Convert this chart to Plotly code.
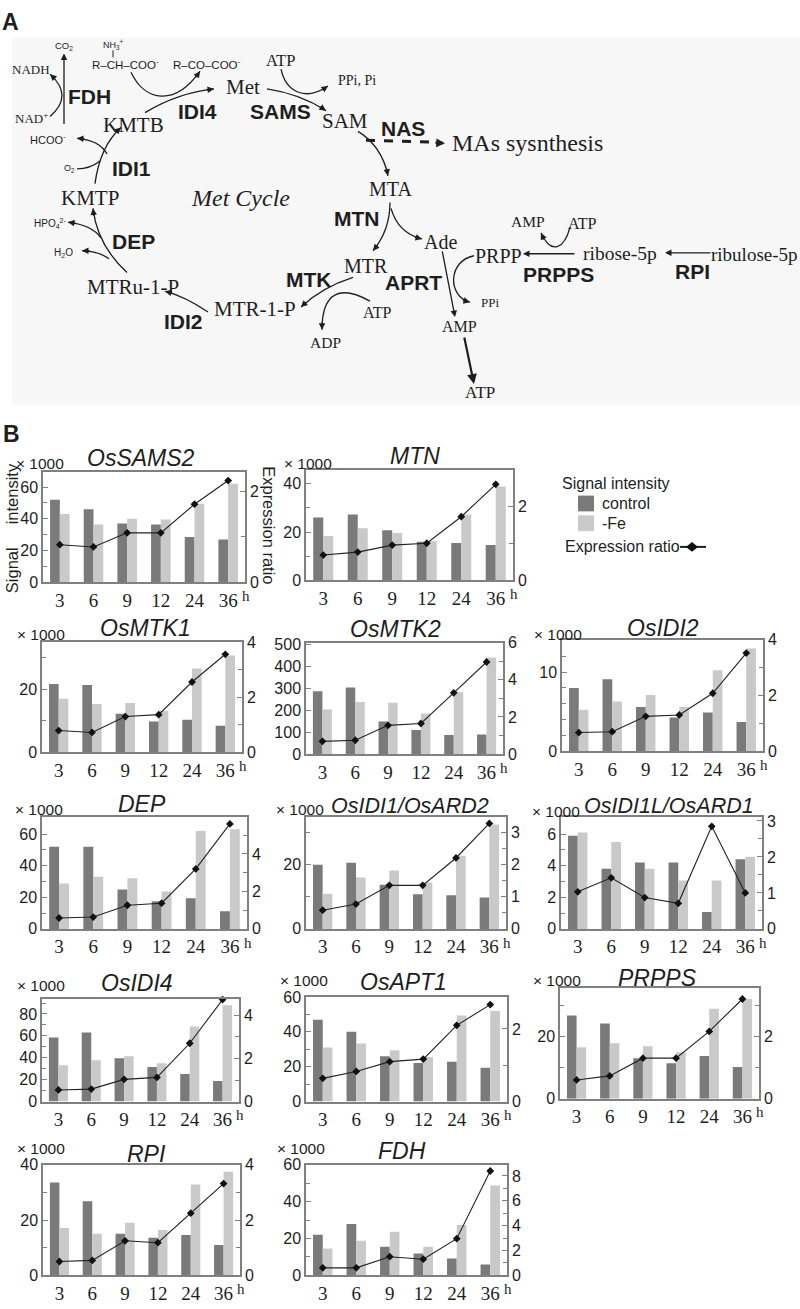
import plotly.graph_objects as go

W, H = 800, 1309
SERIF = "Liberation Serif, Times New Roman, serif"
SANS = "Liberation Sans, Arial, sans-serif"
INK = "#1e1e1e"
AXIS = "#808080"
CONTROL_COLOR = "#7a7a7a"
FE_COLOR = "#c9c9c9"

# ---------------- data ----------------
HOURS = ["3", "6", "9", "12", "24", "36"]

ossams2_control = [52, 46, 37, 36.5, 28.5, 27]
ossams2_fe = [43, 36.5, 40, 39.5, 49.5, 62]
ossams2_ratio = [0.83, 0.78, 1.09, 1.09, 1.72, 2.24]

mtn_control = [26, 27.3, 20.8, 16, 15.5, 14.7]
mtn_fe = [18.4, 21.6, 19.6, 16.3, 27.3, 38.8]
mtn_ratio = [0.69, 0.77, 0.96, 1.01, 1.73, 2.61]

osmtk1_control = [21.6, 21.3, 12.2, 9.7, 10.3, 8.4]
osmtk1_fe = [16.9, 15.3, 15.6, 13.1, 26.5, 30.6]
osmtk1_ratio = [0.79, 0.72, 1.3, 1.37, 2.56, 3.57]

osmtk2_control = [288, 305, 150, 111, 88, 90]
osmtk2_fe = [204, 239, 235, 186, 283, 442]
osmtk2_ratio = [0.69, 0.75, 1.55, 1.65, 3.3, 4.96]

osidi2_control = [8.0, 9.1, 5.6, 4.25, 4.9, 3.7]
osidi2_fe = [5.25, 6.3, 7.1, 5.6, 10.25, 13.0]
osidi2_ratio = [0.67, 0.7, 1.25, 1.3, 2.08, 3.52]

dep_control = [52, 52, 25, 17.5, 19.4, 11.2]
dep_fe = [28.7, 33, 32, 23.7, 62, 63]
dep_ratio = [0.58, 0.63, 1.26, 1.37, 3.2, 5.6]

osidi1_control = [20, 20.6, 13.8, 10.8, 10.5, 9.8]
osidi1_fe = [11, 16, 18.2, 14.5, 22.8, 32.6]
osidi1_ratio = [0.58, 0.77, 1.35, 1.35, 2.2, 3.27]

osidi1l_control = [5.9, 3.8, 4.2, 4.2, 1.07, 4.4]
osidi1l_fe = [6.1, 5.5, 3.8, 3.06, 3.06, 4.56]
osidi1l_ratio = [1.03, 1.42, 0.87, 0.71, 2.85, 1.0]

osidi4_control = [58.6, 63, 39.6, 31.5, 25.2, 18.9]
osidi4_fe = [33.3, 37.8, 41.4, 35, 68.5, 88]
osidi4_ratio = [0.54, 0.58, 1.03, 1.12, 2.7, 4.72]

osapt1_control = [47, 40, 26, 22.2, 22.8, 19.4]
osapt1_fe = [31, 33.3, 29.4, 25.6, 49.4, 52]
osapt1_ratio = [0.64, 0.83, 1.1, 1.17, 2.1, 2.67]

prpps_control = [26.7, 24.1, 13, 11.4, 13.7, 10.2]
prpps_fe = [16.5, 17.8, 16.8, 14.9, 28.9, 32]
prpps_ratio = [0.6, 0.73, 1.3, 1.3, 2.16, 3.2]

rpi_control = [33.6, 26.8, 15, 13.6, 14.6, 11]
rpi_fe = [17.1, 15, 19, 16.4, 32.9, 37.5]
rpi_ratio = [0.5, 0.54, 1.25, 1.18, 2.25, 3.32]

fdh_control = [22, 27.8, 15.5, 11.8, 9.1, 5.9]
fdh_fe = [14.5, 18.7, 23.6, 15.5, 27.3, 48.7]
fdh_ratio = [0.6, 0.6, 1.5, 1.3, 2.95, 8.4]

# ---------------- panel layout (positions in px) ----------------
PANELS = [
    dict(title="OsSAMS2", c=ossams2_control, f=ossams2_fe, r=ossams2_ratio, box=(43, 245, 470, 582),
         yl=(69.5, 20, 10), yr=(2.43, 2, 1), k=(40, 461), tp=(141, 456), ts=23),
    dict(title="MTN", c=mtn_control, f=mtn_fe, r=mtn_ratio, box=(306, 513, 468, 580),
         yl=(45.7, 20, 10), yr=(3.0, 2, 1), k=(308, 461), tp=(415, 454), ts=23),
    dict(title="OsMTK1", c=osmtk1_control, f=osmtk1_fe, r=osmtk1_ratio, box=(42, 242, 642, 754),
         yl=(35, 20, 10), yr=(4.03, 2, 1), k=(41, 635), tp=(145, 628), ts=23),
    dict(title="OsMTK2", c=osmtk2_control, f=osmtk2_fe, r=osmtk2_ratio, box=(306, 503, 643, 756),
         yl=(510, 100, None), yr=(6.0, 2, 1), k=None, tp=(395, 629), ts=23),
    dict(title="OsIDI2", c=osidi2_control, f=osidi2_fe, r=osidi2_ratio, box=(562, 763, 640, 753),
         yl=(14.1, 10, 2), yr=(4.0, 2, 1), k=(558, 635), tp=(663, 628), ts=23),
    dict(title="DEP", c=dep_control, f=dep_fe, r=dep_ratio, box=(42, 247, 820, 933),
         yl=(70.6, 20, 10), yr=(5.95, 2, 1), k=(39, 812), tp=(142, 806), ts=23),
    dict(title="OsIDI1/OsARD2", c=osidi1_control, f=osidi1_fe, r=osidi1_ratio, box=(306, 506, 820, 933),
         yl=(34.8, 20, 10), yr=(3.46, 1, 0.5), k=(300, 812), tp=(410, 808), ts=21.5),
    dict(title="OsIDI1L/OsARD1", c=osidi1l_control, f=osidi1l_fe, r=osidi1l_ratio, box=(561, 762, 820, 933),
         yl=(7.06, 2, 1), yr=(3.1, 1, 0.5), k=(556, 814), tp=(669, 808), ts=21.5),
    dict(title="OsIDI4", c=osidi4_control, f=osidi4_fe, r=osidi4_ratio, box=(42, 239, 1004, 1108),
         yl=(93.7, 20, 10), yr=(4.75, 2, 1), k=(41, 990), tp=(137, 988), ts=23),
    dict(title="OsAPT1", c=osapt1_control, f=osapt1_fe, r=osapt1_ratio, box=(306, 507, 1002, 1108),
         yl=(60, 20, 10), yr=(2.88, 2, 1), k=(304, 985), tp=(403, 987), ts=23),
    dict(title="PRPPS", c=prpps_control, f=prpps_fe, r=prpps_ratio, box=(560, 759, 993, 1105),
         yl=(35.5, 20, 10), yr=(3.55, 2, 1), k=(557, 985), tp=(657, 983), ts=23),
    dict(title="RPI", c=rpi_control, f=rpi_fe, r=rpi_ratio, box=(43, 240, 1172, 1284),
         yl=(40, 20, 10), yr=(4.0, 2, 1), k=(41, 1156), tp=(146, 1161), ts=23),
    dict(title="FDH", c=fdh_control, f=fdh_fe, r=fdh_ratio, box=(306, 507, 1172, 1284),
         yl=(60, 20, 10), yr=(8.9, 2, 1), k=(301, 1155), tp=(402, 1158), ts=23),
]

fig = go.Figure()
ann = []
shp = []


def P(x, y):
    return x / W, 1 - y / H


def label(x, y, s, size, family=SANS, angle=0, xanchor="center", color=INK):
    X, Y = P(x, y)
    ann.append(dict(x=X, y=Y, xref="paper", yref="paper", text=s, showarrow=False,
                    font=dict(family=family, size=size, color=color),
                    textangle=angle, xanchor=xanchor, yanchor="middle"))


def arrow(tail, head, width=1.3, size=1.0):
    X, Y = P(*head)
    ann.append(dict(x=X, y=Y, xref="paper", yref="paper",
                    ax=tail[0] - head[0], ay=tail[1] - head[1], axref="pixel", ayref="pixel",
                    text="", showarrow=True, arrowhead=2, arrowsize=size,
                    arrowwidth=width, arrowcolor=INK, standoff=0))


def path(pts, width=1.3, head=True, dash="solid"):
    cmd = "Q" if len(pts) == 3 else "C"
    cs = [P(*p) for p in pts]
    d = f"M {cs[0][0]:.5f} {cs[0][1]:.5f} {cmd} " + " ".join(f"{x:.5f} {y:.5f}" for x, y in cs[1:])
    shp.append(dict(type="path", path=d, xref="paper", yref="paper",
                    line=dict(color=INK, width=width, dash=dash)))
    if head:
        (x1, y1), (x0, y0) = pts[-1], pts[-2]
        L = ((x1 - x0) ** 2 + (y1 - y0) ** 2) ** 0.5
        arrow((x1 - 9 * (x1 - x0) / L, y1 - 9 * (y1 - y0) / L), pts[-1], width)


def seg(p0, p1, width=1.0, dash="solid"):
    a, b = P(*p0), P(*p1)
    shp.append(dict(type="line", x0=a[0], y0=a[1], x1=b[0], y1=b[1], xref="paper", yref="paper",
                    line=dict(color=INK, width=width, dash=dash)))


# ---------------- panel A : pathway diagram ----------------
a0, a1 = P(12, 30), P(800, 402)
shp.append(dict(type="rect", x0=a0[0], y0=a1[1], x1=a1[0], y1=a0[1], xref="paper", yref="paper",
                fillcolor="#f7f7f7", line=dict(width=0), layer="below"))
label(10, 14, "<b>A</b>", 23)
label(11, 432, "<b>B</b>", 23)

for s, x, y, sz in [
    ("Met", 243, 80, 21), ("SAM", 345, 114, 21), ("MTA", 390, 183, 20), ("MTR", 366, 261, 20),
    ("Ade", 440, 237, 20), ("PRPP", 498, 251, 20), ("ribose-5p", 620, 249, 19.5),
    ("ribulose-5p", 754, 250, 19), ("AMP", 528, 216, 15.5), ("ATP", 582, 218, 16),
    ("PPi", 490, 298, 13), ("AMP", 460, 323, 16), ("ATP", 480, 390, 17),
    ("MAs sysnthesis", 527, 137, 24), ("MTR-1-P", 255, 305, 21), ("ATP", 377, 309, 16),
    ("ADP", 325, 339, 15.5), ("MTRu-1-P", 133, 283, 21), ("KMTP", 90, 192, 21),
    ("KMTB", 133, 119, 21), ("<i>Met Cycle</i>", 240, 192, 24), ("ATP", 280, 53, 16.5),
    ("PPi, Pi", 357, 73, 14), ("NADH", 31, 62, 13), ("NAD<sup>+</sup>", 31, 111, 13),
]:
    label(x, y, s, sz, family=SERIF)

for s, x, y, sz in [
    ("R–CO–COO<sup>-</sup>", 207, 57, 11.5), ("R–CH–COO<sup>-</sup>", 125, 57, 11.5),
    ("NH<sub>3</sub><sup>+</sup>", 114, 37, 9), ("CO<sub>2</sub>", 64, 38, 9.5),
    ("HCOO<sup>-</sup>", 48, 133, 11), ("O<sub>2</sub>", 69, 163, 9),
    ("HPO<sub>4</sub><sup>2-</sup>", 50, 218, 10), ("H<sub>2</sub>O", 63, 248, 10),
]:
    label(x, y, s, sz, family=SANS)

for s, x, y in [
    ("FDH", 89, 90), ("IDI4", 197, 105), ("SAMS", 280, 105), ("NAS", 403, 122),
    ("IDI1", 131, 163), ("MTN", 357, 213), ("DEP", 133, 237), ("MTK", 309, 275),
    ("APRT", 414, 278), ("IDI2", 183, 318), ("PRPPS", 558, 270), ("RPI", 692, 267),
]:
    label(x, y, f"<b>{s}</b>", 21, family=SANS)

# arrows
arrow((64, 118), (64, 46))
path([(50, 110), (74, 89), (50, 67)])
seg((113, 43), (113, 50), 1.0)
path([(145, 106), (178, 86), (214, 82)])
path([(131, 65), (145, 95), (175, 100), (200, 64)])
path([(267, 82), (300, 87), (326, 104)])
path([(281, 62), (286, 85), (305, 95), (328, 79)])
path([(358, 125), (382, 140), (388, 170)])
seg((366, 134), (436, 136), 3, "dash")
arrow((434, 136.5), (445, 137), 2.5, 0.7)
path([(390, 197), (390, 225), (373, 246)])
path([(391, 203), (398, 228), (422, 234)])
path([(353, 273), (322, 283), (301, 303)])
path([(370, 297), (340, 280), (322, 288), (322, 326)])
path([(208, 308), (185, 292), (165, 287)])
path([(127, 268), (97, 240), (93, 203)])
path([(101, 233), (92, 220), (68, 217)])
path([(109, 254), (98, 246), (82, 246)])
path([(95, 178), (100, 140), (121, 121)])
path([(77, 163), (90, 163), (100, 155)], head=False)
path([(107, 148), (100, 134), (77, 132)])
arrow((442, 246), (455, 313))
path([(474, 251), (448, 256), (447, 292), (470, 298)])
arrow((464, 333), (474, 381), 2.2, 0.9)
arrow((576, 249), (523, 249))
path([(570, 222), (565, 242), (552, 252), (541, 228)])
arrow((712, 248), (665, 248))

# ---------------- panel B : charts ----------------
for i, p in enumerate(PANELS):
    n = i + 1
    r = n + 13
    xk = "xaxis" if n == 1 else f"xaxis{n}"
    yk = "yaxis" if n == 1 else f"yaxis{n}"
    rk = f"yaxis{r}"
    xr = "x" if n == 1 else f"x{n}"
    yr_ = "y" if n == 1 else f"y{n}"
    rr = f"y{r}"
    l, rt, t, b = p["box"]

    fig.add_trace(go.Bar(x=HOURS, y=p["c"], xaxis=xr, yaxis=yr_, name="control",
                         marker=dict(color=CONTROL_COLOR, line=dict(width=0)), showlegend=False))
    fig.add_trace(go.Bar(x=HOURS, y=p["f"], xaxis=xr, yaxis=yr_, name="-Fe",
                         marker=dict(color=FE_COLOR, line=dict(width=0)), showlegend=False))
    fig.add_trace(go.Scatter(x=HOURS, y=p["r"], xaxis=xr, yaxis=rr, mode="lines+markers",
                             name="Expression ratio", line=dict(color="#222222", width=1.1),
                             marker=dict(symbol="diamond", size=6, color="#111111"),
                             cliponaxis=False, showlegend=False))

    ymax, ydt, ymin_dt = p["yl"]
    rmax, rdt, rmin_dt = p["yr"]
    left = dict(domain=[1 - b / H, 1 - t / H], anchor=xr, range=[0, ymax], tick0=0, dtick=ydt,
                showline=True, linecolor=AXIS, linewidth=1.5, ticks="inside", ticklen=5,
                tickcolor=AXIS, showgrid=False, zeroline=False, fixedrange=True,
                tickfont=dict(family=SANS, size=16, color=INK))
    if ymin_dt:
        left["minor"] = dict(dtick=ymin_dt, tick0=0, ticks="inside", ticklen=4, tickcolor=AXIS, showgrid=False)
    right = dict(overlaying=yr_, side="right", anchor=xr, range=[0, rmax], tick0=0, dtick=rdt,
                 showline=True, linecolor=AXIS, linewidth=1.5, ticks="inside", ticklen=5,
                 tickcolor=AXIS, showgrid=False, zeroline=False, fixedrange=True,
                 tickfont=dict(family=SANS, size=16, color=INK))
    if rmin_dt:
        right["minor"] = dict(dtick=rmin_dt, tick0=0, ticks="inside", ticklen=4, tickcolor=AXIS, showgrid=False)
    fig.layout[xk] = dict(domain=[l / W, rt / W], anchor=yr_, type="category", range=[-0.5, 5.5],
                          showline=True, mirror=True, linecolor=AXIS, linewidth=1.5, ticks="",
                          showgrid=False, zeroline=False, fixedrange=True,
                          tickfont=dict(family=SERIF, size=19, color=INK))
    fig.layout[yk] = left
    fig.layout[rk] = right

    label(p["tp"][0], p["tp"][1], f"<i>{p['title']}</i>", p["ts"], family=SANS)
    if p["k"]:
        label(p["k"][0], p["k"][1], "× 1000", 15.5, family=SANS)
    label(rt + 1, b + 14, "h", 15, family=SERIF)

# side labels of the first chart
label(12, 527, "Signal\u00a0\u00a0\u00a0\u00a0\u00a0intensity", 16.5, angle=-90)
label(269, 524, "Expression ratio", 16.5, angle=90)

# legend
for (x0, y0, x1, y1), col in [((578, 494, 594, 510), CONTROL_COLOR), ((578, 514, 594, 530), FE_COLOR)]:
    a, b_ = P(x0, y0), P(x1, y1)
    shp.append(dict(type="rect", x0=a[0], y0=b_[1], x1=b_[0], y1=a[1], xref="paper", yref="paper",
                    fillcolor=col, line=dict(width=0)))
label(560, 482, "Signal intensity", 16, xanchor="left")
label(600, 502, "control", 16, xanchor="left")
label(600, 522, "-Fe", 16, xanchor="left")
label(563, 546, "Expression ratio", 16, xanchor="left")
seg((680, 546), (706, 546), 2.0)
dpts = [P(692, 541), P(698, 546), P(692, 551), P(686, 546)]
shp.append(dict(type="path", xref="paper", yref="paper", fillcolor="#111111", line=dict(width=0),
                path="M " + " L ".join(f"{x:.5f} {y:.5f}" for x, y in dpts) + " Z"))

fig.update_layout(width=W, height=H, margin=dict(l=0, r=0, t=0, b=0),
                  paper_bgcolor="white", plot_bgcolor="white",
                  barmode="group", bargap=0.42, bargroupgap=0,
                  annotations=ann, shapes=shp, showlegend=False,
                  font=dict(family=SANS, color=INK))

fig.write_html("out.html", config={"displayModeBar": False},
               post_script="document.body.style.margin='0px';document.body.style.overflow='hidden';")
